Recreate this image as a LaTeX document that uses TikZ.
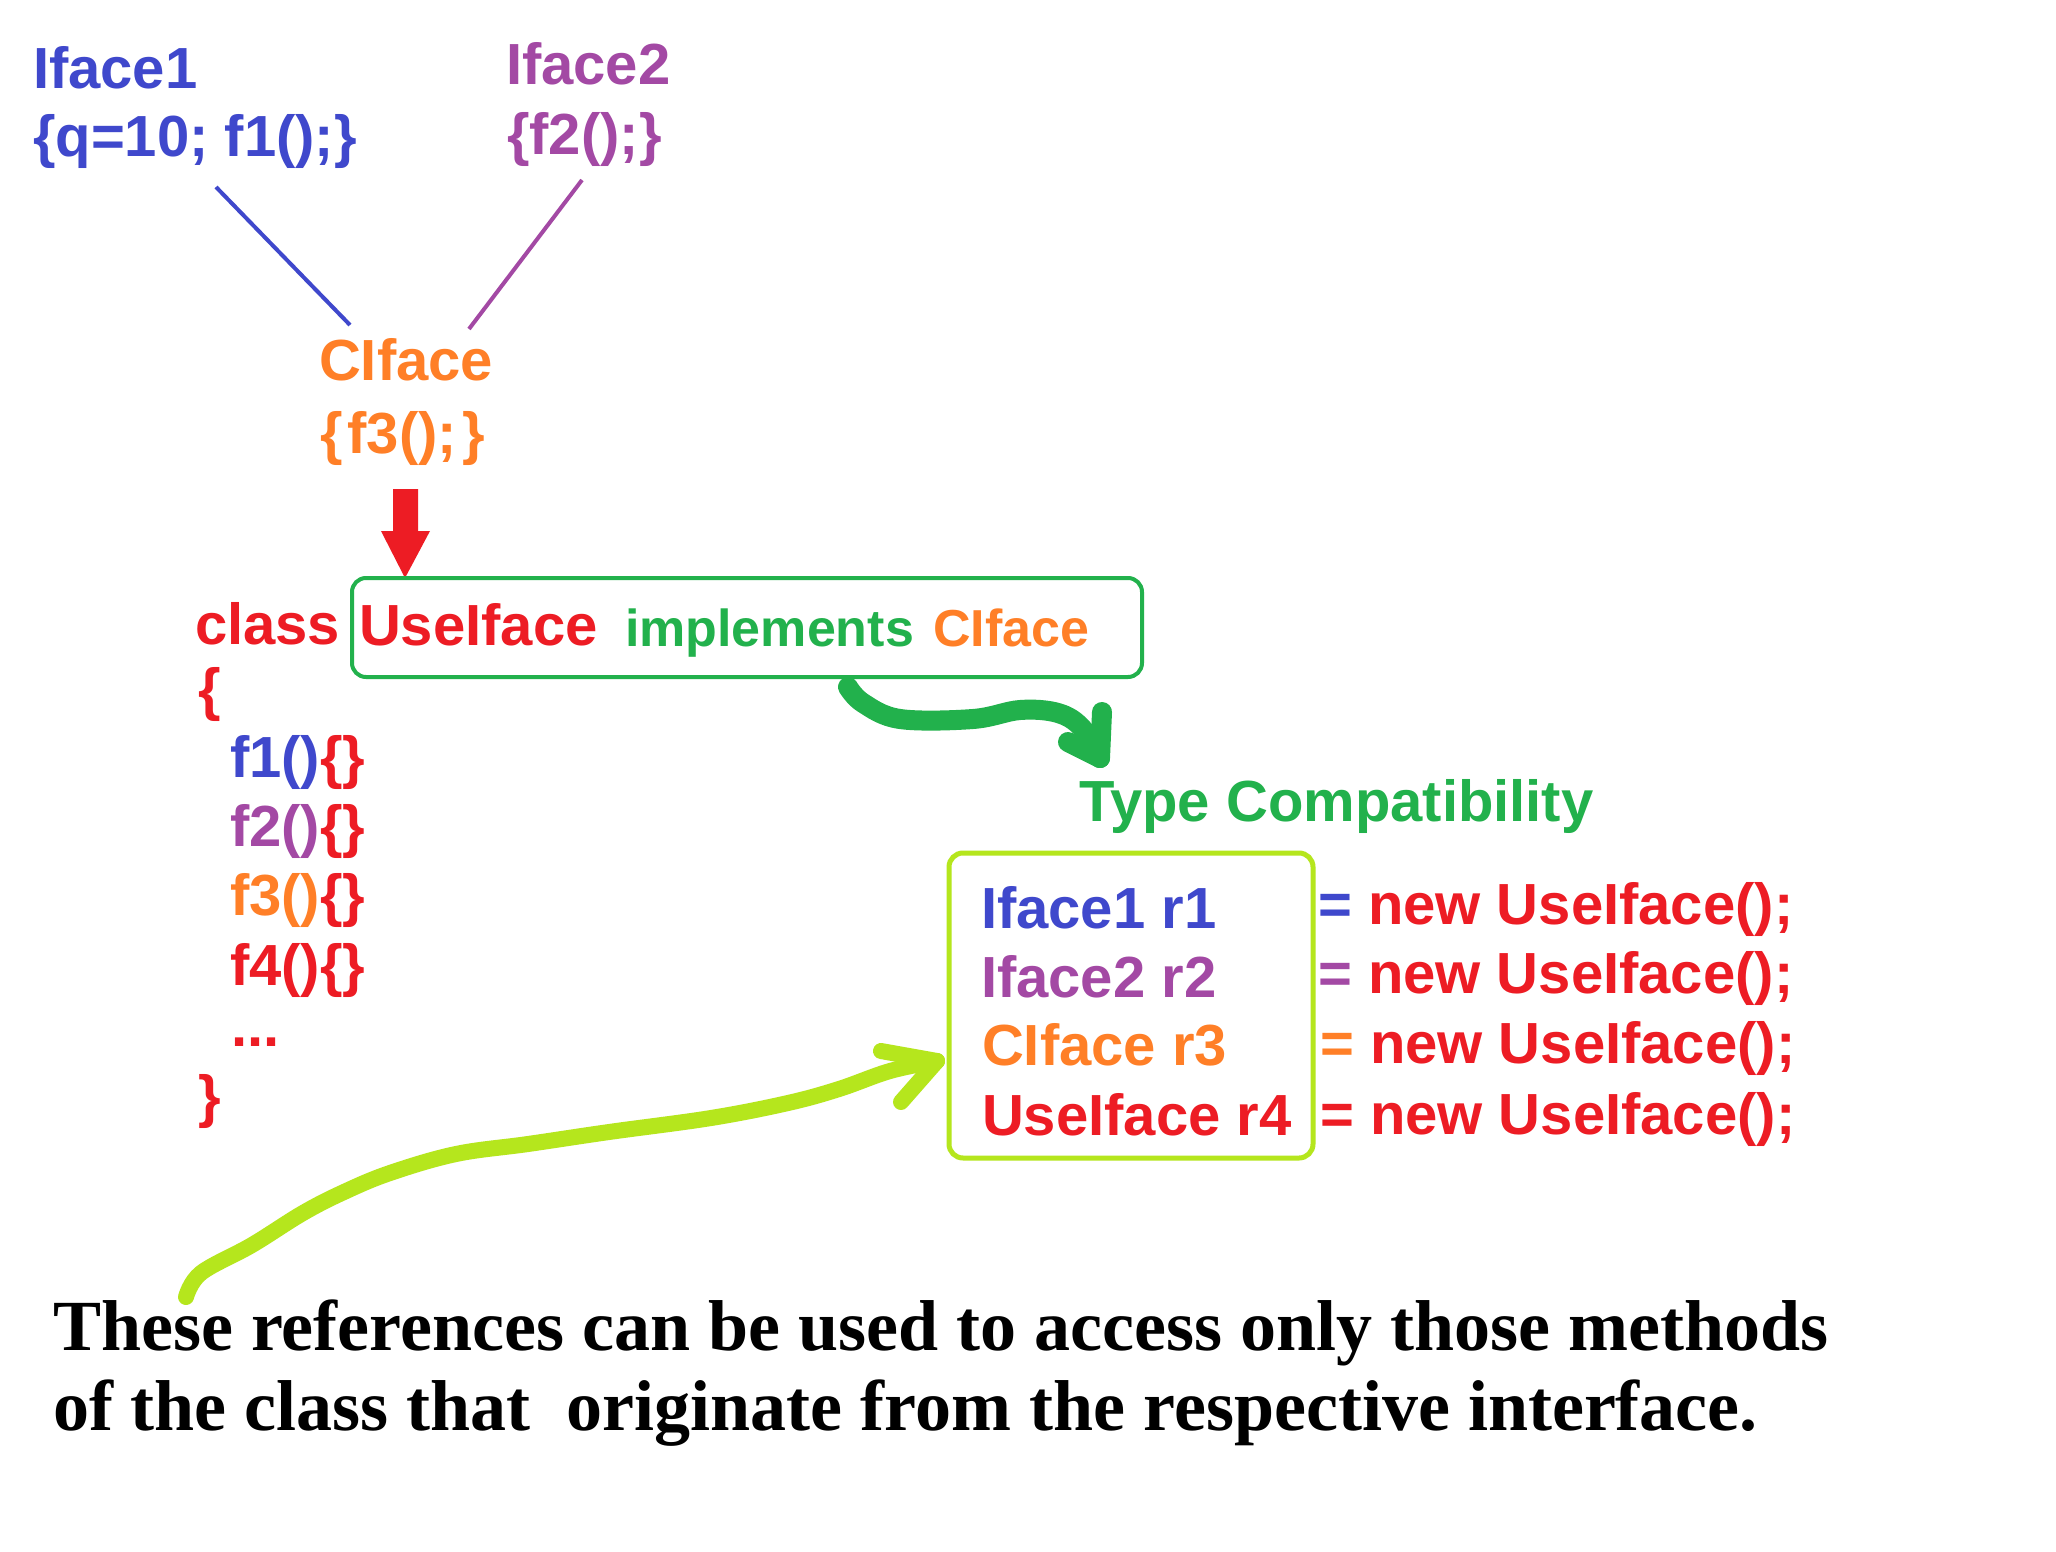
\documentclass[tikz,border=0pt]{standalone}
\usepackage{fontspec}
\setmainfont{Liberation Sans}
\newfontfamily\tnr{Liberation Serif}
\usetikzlibrary{calc}
\definecolor{cblue}{HTML}{3F48CC}
\definecolor{cpurple}{HTML}{A349A4}
\definecolor{corange}{HTML}{FF7F27}
\definecolor{cred}{HTML}{ED1C24}
\definecolor{cgreen}{HTML}{22B14C}
\definecolor{clime}{HTML}{B5E61D}
\newcommand\myfs[1]{\fontsize{#1}{#1}\selectfont}
\tikzset{
  tx/.style={anchor=base west, inner sep=0pt, outer sep=0pt, font=\myfs{58}\bfseries},
  txs/.style={anchor=base west, inner sep=0pt, outer sep=0pt, font=\myfs{52}\bfseries},
  serifline/.style={anchor=base west, inner sep=0pt, outer sep=0pt, font=\tnr\bfseries\myfs{72}},
  thinline/.style={line width=4pt},
  marker/.style={line width=#1, line cap=round, line join=round},
  boxframe/.style={line width=#1, rounded corners=14pt, inner sep=0pt},
}
\begin{document}
\begin{tikzpicture}[x=1pt,y=-1pt]
\useasboundingbox[fill=white] (0,0) rectangle (2056,1552);

% interfaces
\node[tx,text=cblue] (i1) at (33,89) {Iface1};
\node[tx,text=cblue] (i1b) at (33,157) {\{q=10; f1();\}};
\node[tx,text=cpurple] (i2) at (506,85) {Iface2};
\node[tx,text=cpurple] (i2b) at (507,154) {\{f2();\}};
\node[tx,text=corange] (ci) at (319,380) {CIface};
\node[tx,text=corange] (cib) at (320,453) {\{\hspace{5pt}f3();\hspace{5pt}\}};

\coordinate (l1a) at (216,187);
\coordinate (l1b) at (350,325);
\coordinate (l2a) at (582,180);
\coordinate (l2b) at (469,329);
\draw[cblue,thinline] (l1a) -- (l1b);
\draw[cpurple,thinline] (l2a) -- (l2b);

% red arrow
\coordinate (ra) at (405,489);
\coordinate (rb) at (405,578);
\fill[cred] ($(ra)+(-12,0)$) -- ($(ra)+(13,0)$) -- ($(ra)+(13,42)$) -- ($(ra)+(25,42)$)
  -- (rb) -- ($(ra)+(-24,42)$) -- ($(ra)+(-12,42)$) -- cycle;

% class box
\node[draw=cgreen, boxframe=4pt, minimum width=790pt, minimum height=99pt] (gbox) at (747,627.5) {};
\node[tx,text=cred] (kw) at (195,644) {class};
\node[tx,text=cred] (cn) at (359,645) {UseIface};
\node[txs,text=cgreen] (impl) at (625,646) {implements};
\node[txs,text=corange] (cii) at (933,646) {CIface};

\node[tx,text=cred] (ob) at (198,709) {\{};
\node[tx] (m1) at (230,777) {\textcolor{cblue}{f1()}\textcolor{cred}{\{\}}};
\node[tx] (m2) at (230,846) {\textcolor{cpurple}{f2()}\textcolor{cred}{\{\}}};
\node[tx] (m3) at (230,915) {\textcolor{corange}{f3()}\textcolor{cred}{\{\}}};
\node[tx,text=cred] (m4) at (230,985) {f4()\{\}};
\node[tx,text=cred] (dots) at (231,1046) {...};
\node[tx,text=cred] (cb) at (198,1116) {\}};

% green marker arrow
\coordinate (ga) at (848,687);
\coordinate (gb) at (1100,758);
\draw[cgreen,marker=20pt] plot[smooth,tension=0.6] coordinates
  {(ga) (863,703) (900,719) (973,719) (1020,710) (1058,713) (1082,728) (gb)};
\draw[cgreen,marker=20pt] (1102,712) -- (gb);
\draw[cgreen,marker=20pt] (1068,742) -- (gb);

\node[tx,text=cgreen] (tc) at (1079,821) {Type Compatibility};

% reference box
\node[draw=clime, boxframe=5pt, minimum width=364pt, minimum height=305pt] (lbox) at (1131,1005.5) {};
\node[tx,text=cblue] (r1) at (981,928) {Iface1 r1};
\node[tx,text=cpurple] (r2) at (981,997) {Iface2 r2};
\node[tx,text=corange] (r3) at (982,1065) {CIface r3};
\node[tx,text=cred] (r4) at (982,1135) {UseIface r4};
\node[tx] (n1) at (1318,924) {\textcolor{cblue}{=}\ \textcolor{cred}{new UseIface();}};
\node[tx] (n2) at (1318,993) {\textcolor{cpurple}{=}\ \textcolor{cred}{new UseIface();}};
\node[tx] (n3) at (1320,1063) {\textcolor{corange}{=}\ \textcolor{cred}{new UseIface();}};
\node[tx] (n4) at (1320,1134) {\textcolor{cred}{=}\ \textcolor{cred}{new UseIface();}};

% lime marker arrow
\coordinate (la) at (186,1297);
\coordinate (lb) at (937,1061);
\draw[clime,marker=16pt] plot[smooth,tension=0.6] coordinates
  {(la) (201,1273) (252,1245) (303,1213) (344,1192) (390,1173) (456,1154) (528,1144)
   (609,1132) (711,1118) (788,1103) (839,1089) (890,1071) (lb)};
\draw[clime,marker=16pt] (881,1051) -- (lb);
\draw[clime,marker=16pt] (901,1102) -- (lb);

% caption
\node[serifline] (t1) at (53,1350) {These references can be used to access only those methods};
\node[serifline] (t2) at (53,1430) {of the class that\ \ originate from the respective interface.};
\end{tikzpicture}
\end{document}
